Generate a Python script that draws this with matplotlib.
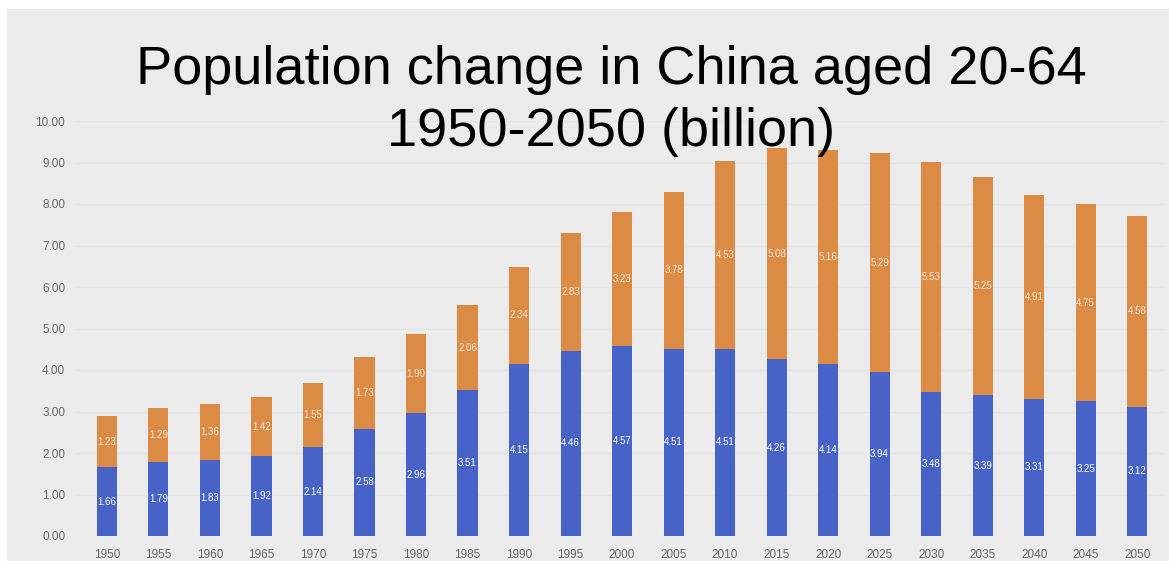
import matplotlib.pyplot as plt
from matplotlib.patches import Rectangle
import numpy as np

years = ['1950', '1955', '1960', '1965', '1970', '1975', '1980', '1985', '1990', '1995', '2000',
         '2005', '2010', '2015', '2020', '2025', '2030', '2035', '2040', '2045', '2050']
blue_vals = [1.66, 1.79, 1.83, 1.92, 2.14, 2.58, 2.96, 3.51, 4.15, 4.46, 4.57,
             4.51, 4.51, 4.26, 4.14, 3.94, 3.48, 3.39, 3.31, 3.25, 3.12]
orange_vals = [1.23, 1.29, 1.36, 1.42, 1.55, 1.73, 1.90, 2.06, 2.34, 2.83, 3.23,
               3.78, 4.53, 5.08, 5.16, 5.29, 5.53, 5.25, 4.91, 4.75, 4.58]
yticks = np.arange(0, 11, 1)

plt.rcParams['font.family'] = ['Liberation Sans', 'DejaVu Sans']

blue = '#4763c7'
orange = '#dc8b45'
bg = '#ebebeb'

fig = plt.figure(figsize=(11.69, 5.61), dpi=100, facecolor='white')
# grey panel, white strip on the left and top like the screenshot
fig.patches.append(Rectangle((7 / 1169, 0), 1 - 7 / 1169, 1 - 9 / 561,
                             transform=fig.transFigure, facecolor=bg,
                             edgecolor='none', zorder=-10))

ax = fig.add_axes([75 / 1169, 25 / 561, (1165 - 75) / 1169, (536 - 121) / 561])
ax.set_facecolor('none')

x = np.arange(len(years))
w = 0.39
ax.bar(x, blue_vals, width=w, color=blue, zorder=2)
ax.bar(x, orange_vals, width=w, bottom=blue_vals, color=orange, zorder=2)

for i in range(len(years)):
    ax.text(x[i], blue_vals[i] / 2, f'{blue_vals[i]:.2f}', ha='center', va='center',
            color='white', fontsize=7, zorder=3)
    ax.text(x[i], blue_vals[i] + orange_vals[i] / 2, f'{orange_vals[i]:.2f}',
            ha='center', va='center', color='#fbe9da', fontsize=7, zorder=3)

ax.set_xlim(-0.62, 20.54)
ax.set_ylim(0, 10)
ax.set_xticks(x)
ax.set_xticklabels(years)
ax.set_yticks(yticks)
ax.set_yticklabels([f'{v:.2f}' for v in yticks])
ax.tick_params(axis='both', length=0, labelsize=8.5, labelcolor='#666666')
ax.tick_params(axis='y', pad=7)
ax.tick_params(axis='x', pad=9)
ax.grid(axis='y', color='#e4e4e4', linewidth=0.8, zorder=0)
for s in ax.spines.values():
    s.set_visible(False)

fig.text(0.523, 0.92, 'Population change in China aged 20-64\n1950-2050 (billion)',
         ha='center', va='top', fontsize=39, color='black', linespacing=1.32, zorder=5)

plt.savefig('out.png', dpi=100, facecolor=fig.get_facecolor())
